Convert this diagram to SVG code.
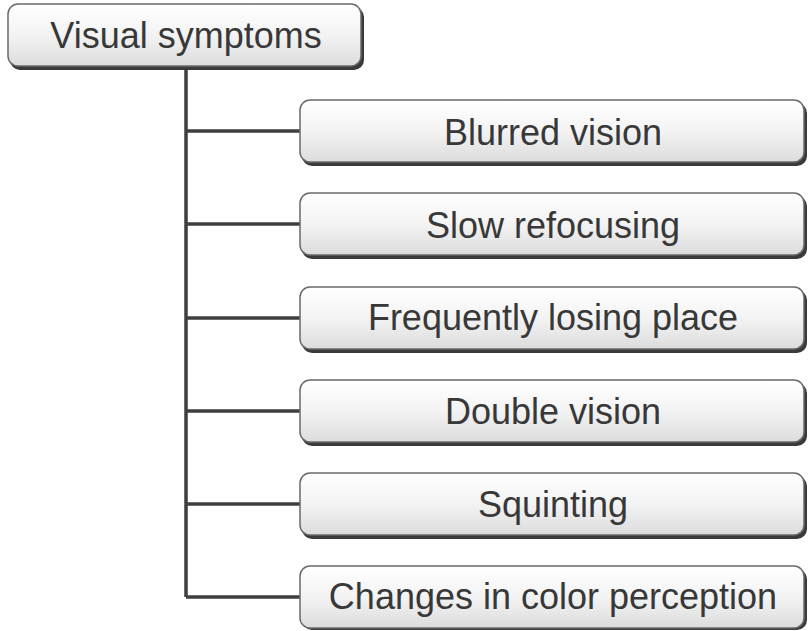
<svg xmlns="http://www.w3.org/2000/svg" width="809" height="631" viewBox="0 0 809 631">
<defs>
<linearGradient id="g" x1="0" y1="0" x2="0" y2="1">
<stop offset="0" stop-color="#ffffff"/>
<stop offset="0.5" stop-color="#f3f3f3"/>
<stop offset="1" stop-color="#dcdcdc"/>
</linearGradient>
</defs>
<style>
.sh{fill:#3a3a3a}
.bx{fill:url(#g);stroke:#6a6a6a;stroke-width:1.5}
.t{font-family:"Liberation Sans",Arial,sans-serif;font-size:36px;fill:#383838;text-anchor:middle}
.c{stroke:#3f3f3f;stroke-width:3.5;fill:none}
</style>
<rect width="809" height="631" fill="#fff"/>
<g id="connectors">
<path class="c" d="M186 68V597M186 131H300M186 224H300M186 318H300M186 411H300M186 504H300M186 597H300"/>
</g>
<g id="root">
<rect class="sh" x="10" y="7" width="354" height="63" rx="10"/>
<rect class="bx" x="8" y="4" width="353" height="62" rx="10"/>
<text class="t" x="186" y="48">Visual symptoms</text>
</g>
<g id="n1">
<rect class="sh" x="302" y="103" width="505" height="63" rx="10"/>
<rect class="bx" x="300" y="100" width="504" height="62" rx="10"/>
<text class="t" x="553" y="145">Blurred vision</text>
</g>
<g id="n2">
<rect class="sh" x="302" y="196" width="505" height="63" rx="10"/>
<rect class="bx" x="300" y="193" width="504" height="62" rx="10"/>
<text class="t" x="553" y="238">Slow refocusing</text>
</g>
<g id="n3">
<rect class="sh" x="302" y="290" width="505" height="63" rx="10"/>
<rect class="bx" x="300" y="287" width="504" height="62" rx="10"/>
<text class="t" x="553" y="330">Frequently losing place</text>
</g>
<g id="n4">
<rect class="sh" x="302" y="383" width="505" height="63" rx="10"/>
<rect class="bx" x="300" y="380" width="504" height="62" rx="10"/>
<text class="t" x="553" y="424">Double vision</text>
</g>
<g id="n5">
<rect class="sh" x="302" y="476" width="505" height="63" rx="10"/>
<rect class="bx" x="300" y="473" width="504" height="62" rx="10"/>
<text class="t" x="553" y="517">Squinting</text>
</g>
<g id="n6">
<rect class="sh" x="302" y="569" width="505" height="61" rx="10"/>
<rect class="bx" x="300" y="566" width="504" height="62" rx="10"/>
<text class="t" x="553" y="609">Changes in color perception</text>
</g>
</svg>
